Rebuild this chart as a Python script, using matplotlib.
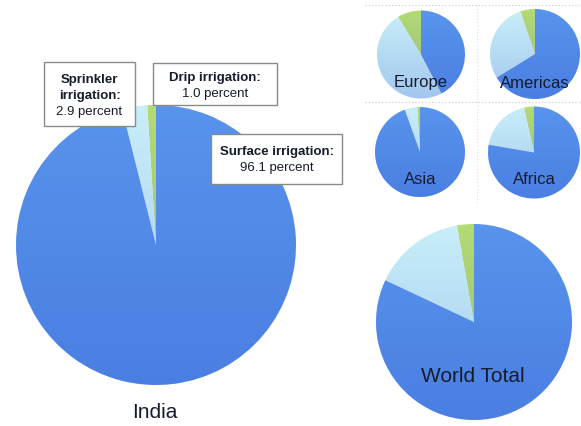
import numpy as np
import matplotlib
matplotlib.use("Agg")
import matplotlib.pyplot as plt
from matplotlib.patches import Circle, Rectangle

plt.rcParams['font.family'] = ['Liberation Sans', 'DejaVu Sans']

W, H = 581, 427

# Shares of irrigated area by method, in percent: [drip, sprinkler, surface]
methods = ["Drip irrigation", "Sprinkler irrigation", "Surface irrigation"]
india = [1.0, 2.9, 96.1]
europe = [8.7, 49.0, 42.3]
americas = [5.3, 28.5, 66.2]
asia = [1.0, 4.5, 94.5]
africa = [3.5, 18.8, 77.7]
world = [2.8, 15.2, 82.0]
regions = ["Europe", "Americas", "Asia", "Africa"]

colors = ["#b3da74", "#c8eefa", "#5893ec"]
text_color = "#161c2c"

fig = plt.figure(figsize=(W / 100, H / 100), dpi=100)
ax = fig.add_axes([0, 0, 1, 1])


def Y(p):
    return H - p


def draw_pie(values, cx, cy, r):
    ax.pie(values, colors=colors, startangle=90, counterclock=True,
           center=(cx, Y(cy)), radius=r, frame=False,
           wedgeprops=dict(linewidth=0))
    # soft top-to-bottom shading across the disc
    n = 256
    shade = np.zeros((n, 1, 4))
    shade[:, 0, 0] = 0.10
    shade[:, 0, 1] = 0.22
    shade[:, 0, 2] = 0.75
    shade[:, 0, 3] = np.linspace(0.0, 0.22, n)
    im = ax.imshow(shade, extent=(cx - r, cx + r, Y(cy) - r, Y(cy) + r),
                   origin="upper", aspect="auto", interpolation="bilinear",
                   zorder=2)
    im.set_clip_path(Circle((cx, Y(cy)), r, transform=ax.transData))


# dotted guide lines around the regional panel
ax.plot([365, 580], [Y(6), Y(6)], ls=(0, (1, 2)), color="#c9c9c9", lw=0.8)
ax.plot([365, 580], [Y(103), Y(103)], ls=(0, (1, 2)), color="#c9c9c9", lw=0.8)
ax.plot([477, 477], [Y(6), Y(205)], ls=(0, (1, 2)), color="#dddddd", lw=0.8)

# India
draw_pie(india, 156, 246, 140)
ax.text(155, Y(413), "India", ha="center", va="center", fontsize=15,
        color=text_color)

# regional pies
small = {
    "Europe": (europe, 421, 55.5, 44, 83),
    "Americas": (americas, 535, 55, 45, 83),
    "Asia": (asia, 420, 153, 45, 180),
    "Africa": (africa, 534, 153.5, 46, 180),
}
for name in regions:
    vals, cx, cy, r, ty = small[name]
    draw_pie(vals, cx, cy, r)
    ax.text(cx, Y(ty), name, ha="center", va="center", fontsize=12,
            color=text_color, zorder=5)

# world total
draw_pie(world, 474, 323, 98)
ax.text(473, Y(377), "World Total", ha="center", va="center", fontsize=15,
        color=text_color, zorder=5)


# annotation boxes for the India pie
def label_box(x0, y0, x1, y1, bold_lines, value, lines_y):
    ax.add_patch(Rectangle((x0, Y(y1)), x1 - x0, y1 - y0, facecolor="white",
                           edgecolor="#8a8a8a", lw=1.0, zorder=6))
    xc = (x0 + x1) / 2
    for line, yy in zip(bold_lines, lines_y[:-1]):
        ax.text(xc, Y(yy), line, ha="center", va="center", fontsize=9.5,
                fontweight="bold", color=text_color, zorder=7)
    ax.text(xc, Y(lines_y[-1]), f"{value:.1f} percent", ha="center",
            va="center", fontsize=9.5, color=text_color, zorder=7)


label_box(44, 63, 135, 127, ["Sprinkler", "irrigation:"], india[1],
          [80, 96, 112])
label_box(153, 64, 277, 106, ["Drip irrigation:"], india[0], [78, 94])
label_box(211, 135, 342, 185, ["Surface irrigation:"], india[2], [152, 168])

ax.set_xlim(0, W)
ax.set_ylim(0, H)
ax.set_aspect("auto")
ax.axis("off")

fig.savefig("out.png", dpi=100)
